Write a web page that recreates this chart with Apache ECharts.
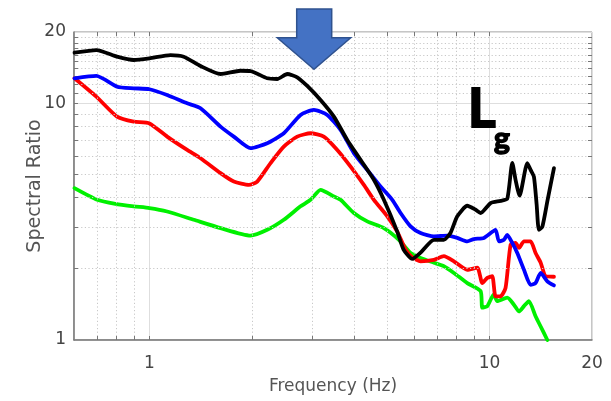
<!DOCTYPE html>
<html><head><meta charset="utf-8">
<script src="https://cdn.jsdelivr.net/npm/echarts@6/dist/echarts.min.js"></script>
<style>html,body{margin:0;padding:0;background:#fff}#c{width:611px;height:401px}</style>
</head><body><div id="c"></div>
<script>
// ---- data (frequency in Hz, spectral ratio) ----
const blackFreq  = [0.602,0.698,0.803,0.899,1.0,1.153,1.261,1.413,1.618,1.852,1.982,2.219,2.375,2.541,2.719,2.910,3.184,3.485,3.815,4.175,4.568,4.888,5.352,5.585,5.924,6.267,6.859,7.338,7.679,8.035,8.597,9.095,9.408,10.07,10.77,11.27,11.66,11.92,12.25,12.91,13.20,13.50,13.75,13.96,14.29,14.81,15.46];
const blackRatio = [16.35,16.78,15.73,15.23,15.48,15.98,15.73,14.37,13.29,13.72,13.68,12.75,12.66,13.29,12.87,11.83,10.32,8.78,7.00,5.77,4.75,3.91,2.87,2.41,2.20,2.34,2.65,2.65,2.84,3.33,3.69,3.55,3.44,3.79,3.87,3.95,5.60,4.75,4.07,5.59,5.23,4.89,3.73,2.92,3.01,3.91,5.32];

const blueFreq  = [0.602,0.698,0.803,0.899,1.0,1.127,1.291,1.413,1.618,1.770,1.982,2.219,2.483,2.781,3.043,3.332,3.646,3.990,4.368,4.779,5.174,5.473,5.856,6.267,6.859,7.509,8.035,8.597,8.990,9.621,10.41,10.65,11.02,11.27,11.66,12.06,12.62,13.20,13.65,14.13,14.78,15.46];
const blueRatio = [12.75,13.04,11.75,11.57,11.46,10.84,10.0,9.53,7.97,7.23,6.46,6.78,7.47,8.93,9.37,8.93,7.72,6.16,5.23,4.45,3.91,3.44,3.02,2.83,2.74,2.76,2.70,2.61,2.67,2.70,2.92,2.61,2.65,2.78,2.57,2.33,1.98,1.71,1.74,1.92,1.77,1.70];

const redFreq  = [0.602,0.698,0.803,0.899,1.0,1.127,1.291,1.413,1.618,1.770,1.960,2.074,2.270,2.483,2.719,2.976,3.255,3.566,3.902,4.269,4.568,5.002,5.352,5.661,5.936,6.267,6.859,7.338,7.852,8.597,9.201,9.517,9.845,10.18,10.41,10.77,11.14,11.53,11.92,12.20,12.62,13.20,13.65,14.13,14.61,15.46];
const redRatio = [12.75,10.66,8.78,8.36,8.22,7.23,6.35,5.86,5.07,4.67,4.52,4.67,5.59,6.56,7.23,7.47,7.23,6.35,5.40,4.52,3.91,3.33,2.87,2.41,2.23,2.15,2.18,2.26,2.15,1.98,2.02,1.74,1.83,1.86,1.53,1.53,1.66,2.53,2.57,2.45,2.61,2.61,2.33,2.12,1.86,1.85];

const greenFreq  = [0.602,0.702,0.794,0.899,1.0,1.127,1.350,1.618,1.982,2.219,2.483,2.781,2.976,3.184,3.485,3.646,3.990,4.368,4.888,5.411,5.856,6.267,6.859,7.338,7.852,8.597,9.408,9.517,9.845,10.29,10.53,11.27,11.79,12.20,12.62,13.05,13.65,14.13,14.78];
const greenRatio = [4.38,3.91,3.76,3.67,3.61,3.49,3.22,2.97,2.76,2.92,3.22,3.67,3.91,4.31,4.04,3.91,3.44,3.17,2.97,2.65,2.33,2.22,2.12,2.05,1.92,1.74,1.61,1.37,1.39,1.56,1.46,1.51,1.41,1.32,1.39,1.46,1.26,1.14,1.0];

// ---- axis ticks / labels ----
const xTickLabels = [1, 10, 20];
const yTickLabels = [1, 10, 20];
const xMinorGrid = [0.7,0.8,0.9,2,3,4,5,6,7,8,9];
const yMinorGrid = [2,3,4,5,6,7,8,9,11,12,13,14,15,16,17,18,19];
const xTicks = [0.7,0.8,0.9,1,2,3,4,5,6,7,8,9,10];
const yTicks = [2,3,4,5,6,7,8,9,10,11,12,13,14,15,16,17,18,19];
const X_MIN = 0.6, X_MAX = 20, Y_MIN = 1, Y_MAX = 20;
const TICK_FX = Math.pow(10, 4/340), TICK_FY = Math.pow(10, 4/237);

const pairs = (f, r) => f.map((v, i) => [v, r[i]]);
const isLabel = (list, v) => list.some(t => Math.abs(v - t) < 1e-6 * t);

const gridLines = [];
xMinorGrid.forEach(v => gridLines.push({xAxis: v}));
yMinorGrid.forEach(v => gridLines.push({yAxis: v}));
const tickLines = [];
xTicks.forEach(v => {
  tickLines.push([{coord:[v, Y_MIN]}, {coord:[v, Y_MIN*TICK_FY]}]);
  tickLines.push([{coord:[v, Y_MAX/TICK_FY]}, {coord:[v, Y_MAX]}]);
});
yTicks.forEach(v => {
  tickLines.push([{coord:[X_MIN, v]}, {coord:[X_MIN*TICK_FX, v]}]);
  tickLines.push([{coord:[X_MAX/TICK_FX, v]}, {coord:[X_MAX, v]}]);
});

const chart = echarts.init(document.getElementById('c'), null, {renderer:'canvas'});
const lineSeries = (name, f, r, color, z) => ({
  name, type:'line', data: pairs(f, r), showSymbol:false, symbol:'none',
  smooth: 0.2, z, clip:true,
  lineStyle:{color, width:3.8, join:'round', cap:'round'}
});
chart.setOption({
  animation:false,
  grid:{left:74, right:19, top:32, bottom:61, show:true, borderColor:'#8c8c8c', borderWidth:1},
  xAxis:{
    type:'log', logBase:10, min:X_MIN, max:X_MAX,
    name:'Frequency (Hz)', nameLocation:'middle', nameGap:38, nameMoveOverlap:false,
    nameTextStyle:{fontFamily:'DejaVu Sans', fontSize:17, color:'#555'},
    axisLine:{show:true, lineStyle:{color:'#7a7a7a', width:1.5}},
    axisTick:{show:false},
    axisLabel:{fontFamily:'DejaVu Sans', fontSize:17, color:'#444', margin:15,
      formatter: v => isLabel(xTickLabels, v) ? String(Math.round(v)) : ''},
    splitLine:{show:true, lineStyle:{color:'#dedede', width:1}}
  },
  yAxis:{
    type:'log', logBase:10, min:Y_MIN, max:Y_MAX,
    name:'Spectral Ratio', nameLocation:'middle', nameGap:29, nameMoveOverlap:false,
    nameTextStyle:{fontFamily:'DejaVu Sans', fontSize:19, color:'#555'},
    axisLine:{show:true, lineStyle:{color:'#7a7a7a', width:1.5}},
    axisTick:{show:false},
    axisLabel:{fontFamily:'DejaVu Sans', fontSize:17, color:'#444', margin:8,
      formatter: v => isLabel(yTickLabels, v) ? String(Math.round(v)) : ''},
    splitLine:{show:true, lineStyle:{color:'#dedede', width:1}}
  },
  series:[
    {type:'line', data:[], silent:true, z:1,
     markLine:{silent:true, symbol:['none','none'], label:{show:false}, animation:false,
       lineStyle:{color:'#c8c8c8', width:1, type:[1.2,2.4]},
       emphasis:{disabled:true}, data: gridLines}},
    {type:'line', data:[], silent:true, z:1,
     markLine:{silent:true, symbol:['none','none'], label:{show:false}, animation:false,
       lineStyle:{color:'#777', width:1, type:'solid'},
       emphasis:{disabled:true}, data: tickLines}},
    lineSeries('green', greenFreq, greenRatio, '#00f000', 3),
    lineSeries('red', redFreq, redRatio, '#ff0000', 4),
    lineSeries('blue', blueFreq, blueRatio, '#0000ff', 5),
    lineSeries('black', blackFreq, blackRatio, '#000000', 6)
  ],
  graphic:[
    {type:'polygon', z:100,
     shape:{points:[[296.7,9],[331.7,9],[331.7,37.7],[350.7,37.7],[314,69.3],[277.3,37.7],[296.7,37.7]]},
     style:{fill:'#4472C4', stroke:'#2F528F', lineWidth:1.5}},
    {type:'text', z:100, x:468, y:110,
     style:{text:'L', fill:'#000', stroke:'#000', lineWidth:2, font:'bold 53px Lato', align:'left', verticalAlign:'middle'}},
    {type:'text', z:100, x:494, y:139,
     style:{text:'g', fill:'#000', stroke:'#000', lineWidth:1.5, font:'bold 30px Lato', align:'left', verticalAlign:'middle'}}
  ]
});
</script></body></html>
